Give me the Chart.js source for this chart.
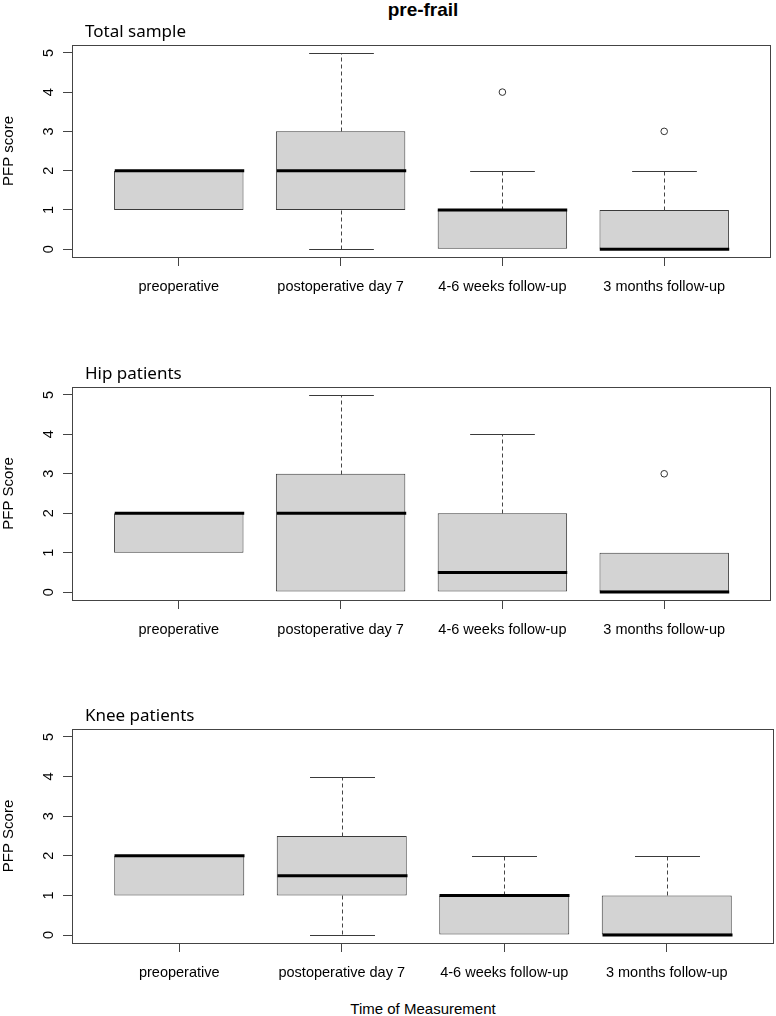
<!DOCTYPE html>
<html>
<head>
<meta charset="utf-8">
<script src="https://cdn.jsdelivr.net/npm/chart.js@4.4.1/dist/chart.umd.min.js"></script>
<style>
  html, body { margin: 0; padding: 0; background: #fff; }
  body { width: 776px; height: 1016px; position: relative; overflow: hidden; font-family: "Liberation Sans", Arial, sans-serif; }
  .panel { position: absolute; left: 0; width: 776px; }
  #mainTitle { position: absolute; left: 0; width: 846px; top: 0; text-align: center; font-weight: bold; font-size: 19px; line-height: 19px; color: #000; }
  #xTitle { position: absolute; left: 0; width: 846px; top: 1000px; text-align: center; font-size: 15px; line-height: 17px; color: #000; }
</style>
</head>
<body>
<div id="mainTitle">pre-frail</div>
<div class="panel" style="top:5px;height:297px"><canvas id="chartTotal"></canvas></div>
<div class="panel" style="top:347px;height:298px"><canvas id="chartHip"></canvas></div>
<div class="panel" style="top:689px;height:299px"><canvas id="chartKnee"></canvas></div>
<div id="xTitle">Time of Measurement</div>
<script>
const categories = ["preoperative", "postoperative day 7", "4-6 weeks follow-up", "3 months follow-up"];
const yTicks = [0, 1, 2, 3, 4, 5];

// Total sample
const totalLow = [1, 0, 0, 0];
const totalQ1 = [1, 1, 0, 0];
const totalMedian = [2, 2, 1, 0];
const totalQ3 = [2, 3, 1, 1];
const totalHigh = [2, 5, 2, 2];
const totalOutliers = [[], [], [4], [3]];

// Hip patients
const hipLow = [1, 0, 0, 0];
const hipQ1 = [1, 0, 0, 0];
const hipMedian = [2, 2, 0.5, 0];
const hipQ3 = [2, 3, 2, 1];
const hipHigh = [2, 5, 4, 1];
const hipOutliers = [[], [], [], [3]];

// Knee patients
const kneeLow = [1, 0, 0, 0];
const kneeQ1 = [1, 1, 0, 0];
const kneeMedian = [2, 1.5, 1, 0];
const kneeQ3 = [2, 2.5, 1, 1];
const kneeHigh = [2, 4, 2, 2];
const kneeOutliers = [[], [], [], []];

const tickFont = { family: "'Liberation Sans', Arial, sans-serif", size: 14.5 };
const edgeColor = "#3a3a3a";

// whiskers, staples, medians, frame and panel title
const boxExtras = {
  id: "boxExtras",
  afterDatasetsDraw(chart, args, opts) {
    const { ctx, chartArea, scales } = chart;
    const x = scales.x, y = scales.y;
    ctx.save();
    opts.low.forEach((lo, i) => {
      const cx = Math.round(x.getPixelForValue(i + 1)) + 0.5;
      const half = (x.getPixelForValue(i + 1.2) - x.getPixelForValue(i + 1));
      const drawWhisker = (from, to) => {
        if (from === to) return;
        const p1 = Math.round(y.getPixelForValue(from)) + 0.5;
        const p2 = Math.round(y.getPixelForValue(to)) + 0.5;
        ctx.strokeStyle = "#444";
        ctx.lineWidth = 1;
        ctx.setLineDash([4, 3]);
        ctx.beginPath();
        ctx.moveTo(cx, p1);
        ctx.lineTo(cx, p2);
        ctx.stroke();
        ctx.setLineDash([]);
        ctx.strokeStyle = edgeColor;
        ctx.beginPath();
        ctx.moveTo(cx - half, p2);
        ctx.lineTo(cx + half, p2);
        ctx.stroke();
      };
      drawWhisker(opts.q3[i], opts.high[i]);
      drawWhisker(opts.q1[i], lo);
      // median
      const bw = x.getPixelForValue(i + 1.4) - x.getPixelForValue(i + 1);
      const my = y.getPixelForValue(opts.median[i]);
      ctx.setLineDash([]);
      ctx.strokeStyle = "#000";
      ctx.lineWidth = 3;
      ctx.beginPath();
      ctx.moveTo(cx - bw, my);
      ctx.lineTo(cx + bw, my);
      ctx.stroke();
    });
    // plot frame
    ctx.lineWidth = 1;
    ctx.strokeStyle = "#444";
    ctx.strokeRect(Math.round(chartArea.left) + 0.5, Math.round(chartArea.top) + 0.5,
      Math.round(chartArea.width) - 1, Math.round(chartArea.height));
    // panel title
    ctx.fillStyle = "#000";
    ctx.font = "17px 'Noto Sans', 'Open Sans', sans-serif";
    ctx.textBaseline = "alphabetic";
    ctx.textAlign = "left";
    ctx.fillText(opts.title, chartArea.left + 13, chartArea.top - 8.5);
    ctx.restore();
  }
};

const makePanel = (canvasId, title, yTitle, low, q1, median, q3, high, outliers) => {
  const outlierPoints = [];
  outliers.forEach((vals, i) => vals.forEach((v) => outlierPoints.push({ x: i + 1, y: v })));

  return new Chart(document.getElementById(canvasId), {
    type: "bar",
    data: {
      datasets: [
        {
          label: "box",
          data: categories.map((c, i) => ({ x: i + 1, y: [q1[i], q3[i]] })),
          backgroundColor: "#d3d3d3",
          borderColor: edgeColor,
          borderWidth: 1,
          borderSkipped: false,
          categoryPercentage: 1,
          barPercentage: 0.8,
        },
        {
          type: "scatter",
          label: "outliers",
          data: outlierPoints,
          pointStyle: "circle",
          pointRadius: 3.3,
          pointBackgroundColor: "#fff",
          pointBorderColor: "#333",
          pointBorderWidth: 1,
        },
      ],
    },
    options: {
      responsive: true,
      maintainAspectRatio: false,
      animation: false,
      layout: { padding: { top: 40, right: 2, left: 0, bottom: 0 } },
      plugins: {
        legend: { display: false },
        tooltip: { enabled: false },
        boxExtras: { title, low, q1, median, q3, high },
      },
      scales: {
        x: {
          type: "linear",
          min: 0.34,
          max: 4.66,
          offset: false,
          afterBuildTicks: (s) => { s.ticks = categories.map((c, i) => ({ value: i + 1 })); },
          afterFit: (s) => { s.height = 45; s.paddingLeft = 0; s.paddingRight = 0; },
          grid: { offset: false, drawOnChartArea: false, drawTicks: true, tickLength: 9, color: "#444", tickColor: "#444" },
          border: { display: false },
          ticks: {
            autoSkip: false,
            maxRotation: 0,
            minRotation: 0,
            padding: 12,
            color: "#000",
            font: tickFont,
            callback: (v) => categories[v - 1],
          },
        },
        y: {
          type: "linear",
          min: -0.2,
          max: 5.2,
          afterBuildTicks: (s) => { s.ticks = yTicks.map((v) => ({ value: v })); },
          afterFit: (s) => { s.width = 72; s.paddingTop = 0; s.paddingBottom = 0; },
          grid: { drawOnChartArea: false, drawTicks: true, tickLength: 9, color: "#444", tickColor: "#444" },
          border: { display: false },
          title: {
            display: true,
            text: yTitle,
            color: "#000",
            font: { family: "'Liberation Sans', Arial, sans-serif", size: 15 },
            padding: { top: 0, bottom: 0 },
          },
          ticks: {
            minRotation: 90,
            maxRotation: 90,
            crossAlign: "center",
            padding: 10,
            color: "#000",
            font: tickFont,
          },
        },
      },
    },
    plugins: [boxExtras],
  });
};

makePanel("chartTotal", "Total sample", "PFP score", totalLow, totalQ1, totalMedian, totalQ3, totalHigh, totalOutliers);
makePanel("chartHip", "Hip patients", "PFP Score", hipLow, hipQ1, hipMedian, hipQ3, hipHigh, hipOutliers);
makePanel("chartKnee", "Knee patients", "PFP Score", kneeLow, kneeQ1, kneeMedian, kneeQ3, kneeHigh, kneeOutliers);
</script>
</body>
</html>
